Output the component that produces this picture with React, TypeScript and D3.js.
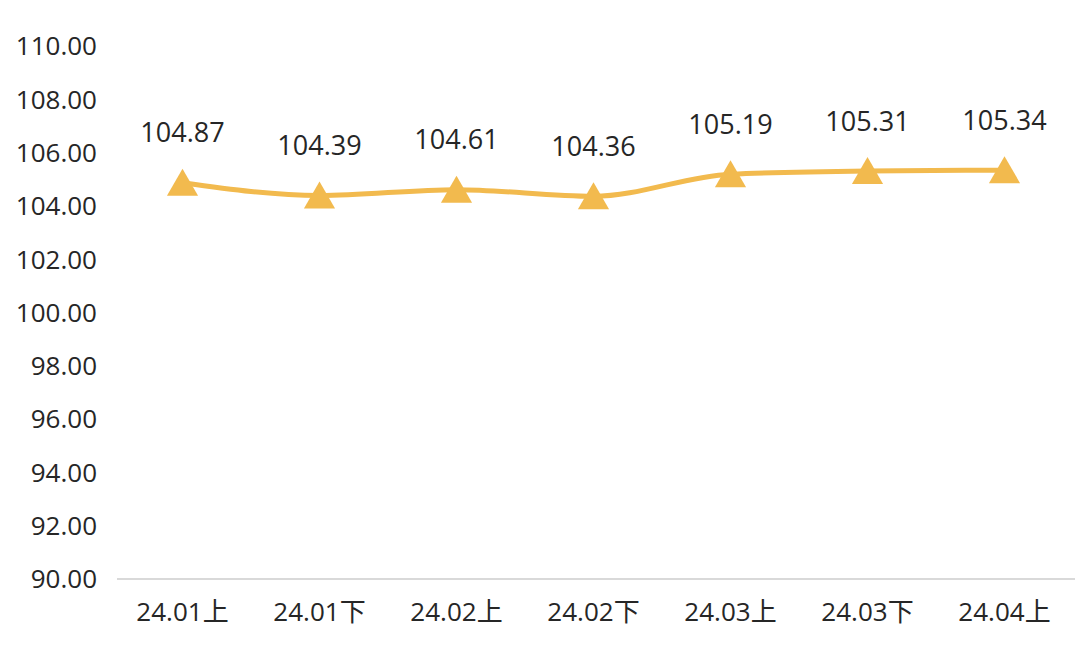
import React from "react";
import * as d3 from "d3";

const categories = ["24.01上", "24.01下", "24.02上", "24.02下", "24.03上", "24.03下", "24.04上"];
const values = [104.87, 104.39, 104.61, 104.36, 105.19, 105.31, 105.34];
const yTicks = [90, 92, 94, 96, 98, 100, 102, 104, 106, 108, 110];

const W = 1080;
const H = 656;
const FONT = "'Open Sans', 'Noto Sans CJK SC', sans-serif";

export default function App() {
  const x = d3.scaleBand<string>().domain(categories).range([114, 1073]);
  const y = d3.scaleLinear().domain([90, 110]).range([579, 46]);
  const cx = (c: string) => (x(c) as number) + x.bandwidth() / 2;
  const pts: [number, number][] = values.map((v, i) => [cx(categories[i]), y(v)]);
  const line = d3.line().curve(d3.curveMonotoneX)(pts) as string;
  const tri = d3.symbol().type(d3.symbolTriangle).size(420)() as string;
  const color = "#F2BA4E";
  return (
    <svg width={W} height={H} style={{ position: "absolute", left: 0, top: 0, background: "#fff" }}>
      {yTicks.map((t) => (
        <text key={t} x={97} y={y(t)} dy="0.36em" textAnchor="end" fontSize={26} fill="#262626" fontFamily={FONT}>
          {t.toFixed(2)}
        </text>
      ))}
      <line x1={117} x2={1075} y1={y(90)} y2={y(90)} stroke="#d9d9d9" strokeWidth={2} />
      {categories.map((c) => (
        <text key={c} x={cx(c)} y={612} dy="0.36em" textAnchor="middle" fontSize={26} fill="#262626" fontFamily={FONT}>
          {c}
        </text>
      ))}
      <path d={line} fill="none" stroke={color} strokeWidth={5} />
      {pts.map(([px, py], i) => (
        <g key={i}>
          <path d={tri} transform={`translate(${px},${py + 4})`} fill={color} />
          <text x={px} y={py - 50} dy="0.36em" textAnchor="middle" fontSize={27} fill="#262626" fontFamily={FONT}>
            {values[i].toFixed(2)}
          </text>
        </g>
      ))}
    </svg>
  );
}
